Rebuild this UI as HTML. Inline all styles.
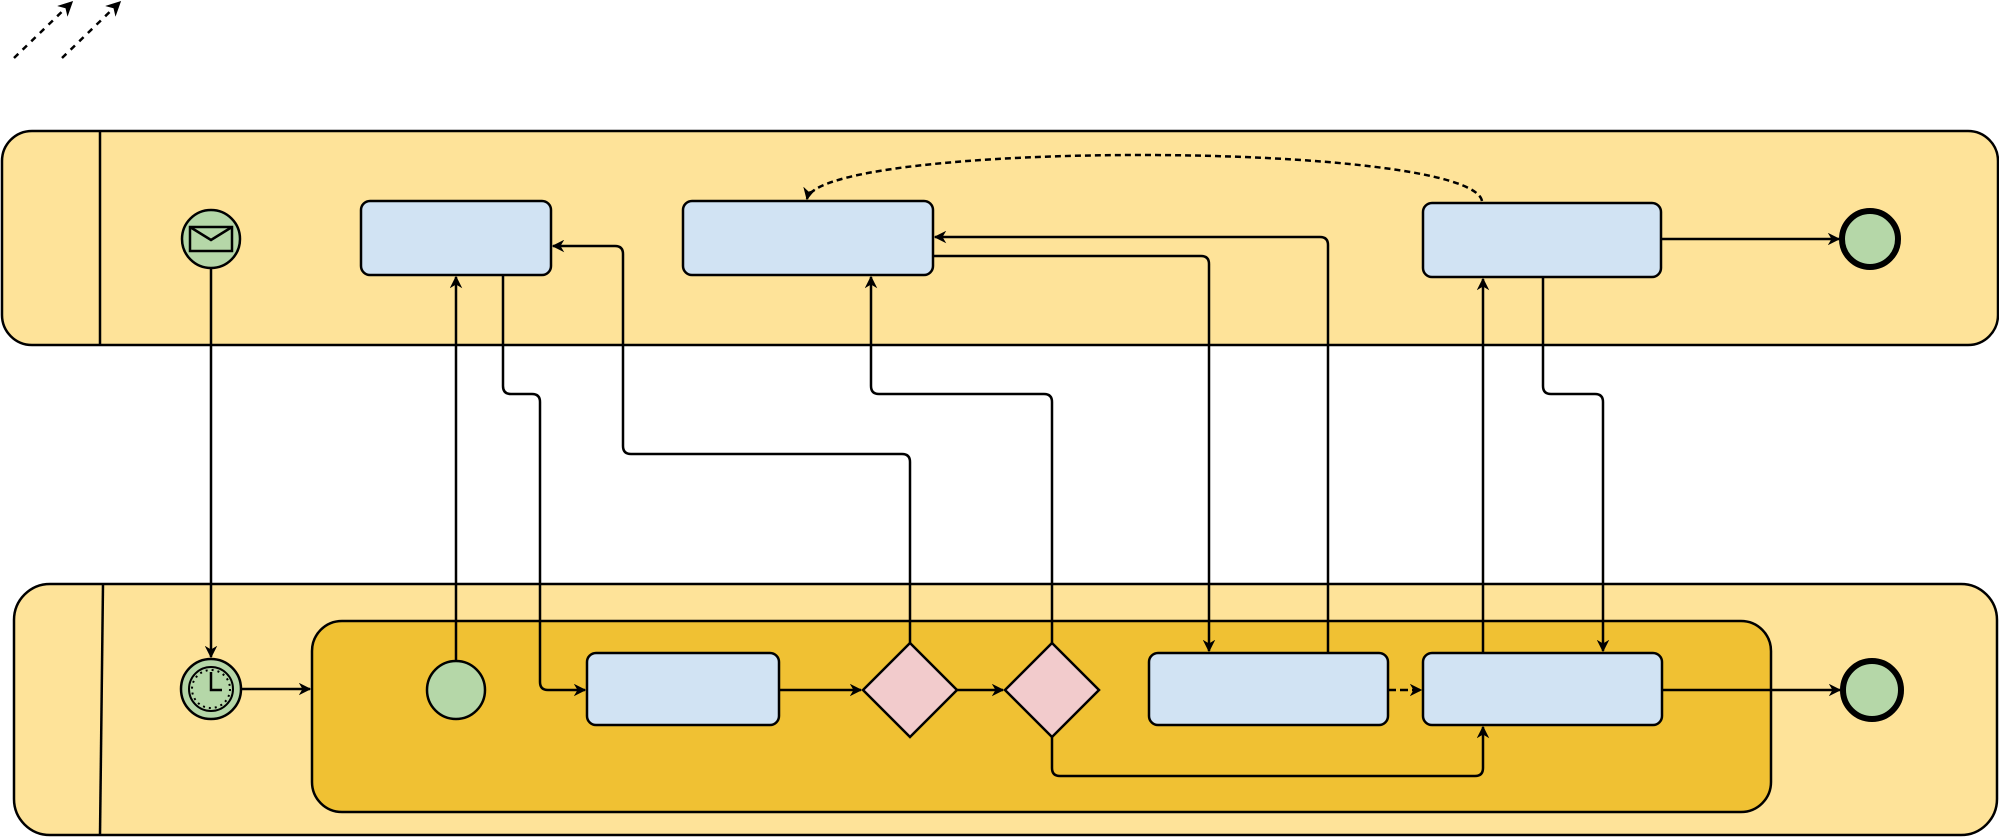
<!DOCTYPE html>
<html><head><meta charset="utf-8"><style>html,body{margin:0;padding:0;background:#fff}svg{display:block}</style></head>
<body>
<svg width="1999" height="838" viewBox="0 0 1999 838" xmlns="http://www.w3.org/2000/svg">
<defs>
<marker id="a" viewBox="0 0 10 10" refX="9" refY="5" markerWidth="5" markerHeight="5" orient="auto" markerUnits="strokeWidth">
<path d="M0,0 L10,5 L0,10 L3,5 Z" fill="#000"/></marker>
<marker id="a2" viewBox="0 0 10 10" refX="9" refY="5" markerWidth="6" markerHeight="6" orient="auto" markerUnits="strokeWidth">
<path d="M0,0 L10,5 L0,10 L3,5 Z" fill="#000"/></marker>
</defs>
<g stroke="#000" stroke-width="2.5" fill="none">
<path d="M14,58 L72,2" stroke-dasharray="6,6" marker-end="url(#a2)"/>
<path d="M62,58 L120,2" stroke-dasharray="6,6" marker-end="url(#a2)"/>
<rect x="2" y="131" width="1996" height="214" rx="30" fill="#fee399"/>
<line x1="100" y1="131" x2="100" y2="345"/>
<rect x="14" y="584" width="1983" height="251" rx="36" fill="#fee399"/>
<line x1="103" y1="584" x2="100" y2="835"/>
<rect x="312" y="621" width="1459" height="191" rx="30" fill="#f0c133"/>
<g fill="#d1e3f3">
<rect x="361" y="201" width="190" height="74" rx="9"/>
<rect x="683" y="201" width="250" height="74" rx="9"/>
<rect x="1423" y="203" width="238" height="74" rx="9"/>
<rect x="587" y="653" width="192" height="72" rx="9"/>
<rect x="1149" y="653" width="239" height="72" rx="9"/>
<rect x="1423" y="653" width="239" height="72" rx="9"/>
</g>
<g fill="#f2cbcc">
<path d="M910,643 L957,690 L910,737 L863,690 Z"/>
<path d="M1052,643 L1099,690 L1052,737 L1005,690 Z"/>
</g>
<g fill="#b5d7a8">
<circle cx="211" cy="239" r="29"/>
<circle cx="211" cy="689" r="30"/>
<circle cx="456" cy="690" r="29"/>
<circle cx="1870" cy="239" r="28" stroke-width="6"/>
<circle cx="1872" cy="690" r="29" stroke-width="6"/>
</g>
<rect x="190" y="227" width="42" height="24"/>
<path d="M190,227 L211,240 L232,227"/>
<circle cx="211" cy="689" r="22" stroke-width="2"/>
<circle cx="211" cy="689" r="19" stroke-dasharray="2,4" stroke-width="2"/>
<path d="M211,672 L211,690 L222,690" stroke-width="2.5"/>
<path d="M211,268 L211,657" marker-end="url(#a)"/>
<path d="M241,689 L310,689" marker-end="url(#a)"/>
<path d="M456,661 L456,277" marker-end="url(#a)"/>
<path d="M503,275 L503,386 Q503,394 511,394 L532,394 Q540,394 540,402 L540,682 Q540,690 548,690 L585,690" marker-end="url(#a)"/>
<path d="M779,690 L861,690" marker-end="url(#a)"/>
<path d="M957,690 L1003,690" marker-end="url(#a)"/>
<path d="M910,643 L910,462 Q910,454 902,454 L631,454 Q623,454 623,446 L623,254 Q623,246 615,246 L553,246" marker-end="url(#a)"/>
<path d="M1052,643 L1052,402 Q1052,394 1044,394 L879,394 Q871,394 871,386 L871,277" marker-end="url(#a)"/>
<path d="M1052,737 L1052,768 Q1052,776 1060,776 L1475,776 Q1483,776 1483,768 L1483,727" marker-end="url(#a)"/>
<path d="M933,256 L1201,256 Q1209,256 1209,264 L1209,651" marker-end="url(#a)"/>
<path d="M1328,653 L1328,245 Q1328,237 1320,237 L935,237" marker-end="url(#a)"/>
<path d="M1388,690 L1421,690" stroke-dasharray="8,4" marker-end="url(#a)"/>
<path d="M1483,653 L1483,279" marker-end="url(#a)"/>
<path d="M1543,277 L1543,386 Q1543,394 1551,394 L1595,394 Q1603,394 1603,402 L1603,651" marker-end="url(#a)"/>
<path d="M1661,239 L1839,239" marker-end="url(#a)"/>
<path d="M1662,690 L1840,690" marker-end="url(#a)"/>
<path d="M1482,201 C1470,140 820,140 807,199" stroke-dasharray="6,4" marker-end="url(#a)"/>
</g>
</svg>
</body></html>
